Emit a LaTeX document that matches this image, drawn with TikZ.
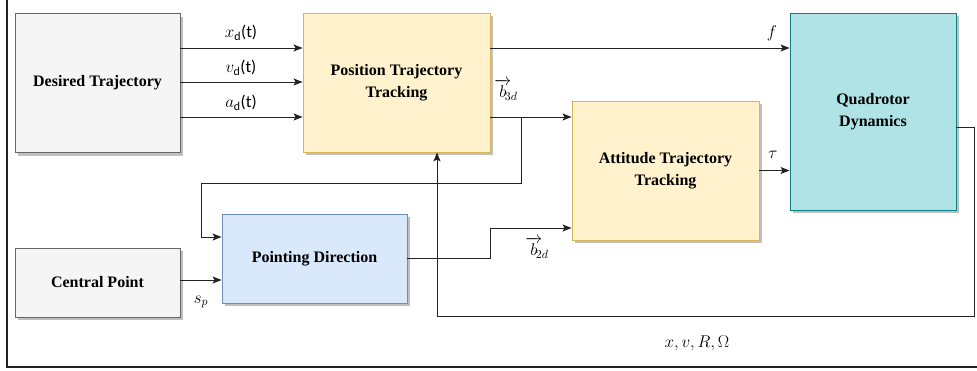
\RequirePackage{fix-cm}
\documentclass[tikz,border=0pt]{standalone}
\usepackage{amsmath}
\usepackage{fontspec}
\setmainfont{Liberation Serif}
\setsansfont{Carlito}
\usepackage{tikz}
\usetikzlibrary{arrows.meta,positioning,calc,shadows}
\definecolor{gf}{HTML}{F5F5F5}
\definecolor{gd}{HTML}{666666}
\definecolor{yf}{HTML}{FFF2CC}
\definecolor{yd}{HTML}{D6B656}
\definecolor{bf}{HTML}{DAE8FC}
\definecolor{bd}{HTML}{6C8EBF}
\definecolor{cf}{HTML}{B0E3E6}
\definecolor{cd}{HTML}{0E8088}
\definecolor{ln}{HTML}{222222}
\newcommand{\Sub}[1]{\ensuremath{_{\text{\sffamily #1}}}}
\newcommand{\Vb}[1]{\ensuremath{\overrightarrow{b}\mkern-7mu{}_{#1}}}
\tikzset{
  blk/.style={draw, line width=0.9pt, align=center, inner sep=0pt,
    font=\bfseries\fontsize{16}{22}\selectfont,
    drop shadow={shadow xshift=3pt, shadow yshift=-3pt, fill=black!25, opacity=1}},
  arr/.style={draw=ln, line width=1pt, -{Stealth[length=9pt,width=7pt,inset=2pt]}},
  lbl/.style={font=\fontsize{17}{20}\selectfont, inner sep=0pt},
}
\begin{document}
\begin{tikzpicture}[x=1pt,y=-1pt]
  \useasboundingbox (0,0) rectangle (977,370);
  % outer frame
  \draw[line width=1.3pt, ln] (7,0) -- (7,367) -- (977,367);

  % blocks
  \node[blk, fill=gf, draw=gd, minimum width=165, minimum height=139] (dtraj) at (97.5,83) {Desired Trajectory};
  \node[blk, fill=yf, draw=yd, minimum width=187, minimum height=139] (ptrack) at (396.5,82.5) {Position Trajectory\\Tracking};
  \node[blk, fill=cf, draw=cd, minimum width=166, minimum height=197] (quad) at (873,111.5) {Quadrotor\\Dynamics};
  \node[blk, fill=yf, draw=yd, minimum width=187, minimum height=139] (atrack) at (665.5,170.5) {Attitude Trajectory\\Tracking};
  \node[blk, fill=gf, draw=gd, minimum width=165, minimum height=69] (cpoint) at (97.5,282.5) {Central Point};
  \node[blk, fill=bf, draw=bd, minimum width=185, minimum height=89] (pdir) at (314.5,258.5) {Pointing Direction};

  % reference inputs
  \draw[arr] ([yshift=35]dtraj.east) -- ([yshift=35]dtraj.east -| ptrack.west);
  \draw[arr] ([yshift=1]dtraj.east) -- ([yshift=1]dtraj.east -| ptrack.west);
  \draw[arr] ([yshift=-34]dtraj.east) -- ([yshift=-34]dtraj.east -| ptrack.west);
  \node[lbl] (xd) at (241,33) {$x\Sub{d}$\sffamily(t)};
  \node[lbl] (vd) at (241,68) {$v\Sub{d}$\sffamily(t)};
  \node[lbl] (ad) at (241,103) {$a\Sub{d}$\sffamily(t)};

  % thrust
  \coordinate (fo) at ([yshift=34.5]ptrack.east);
  \draw[arr] (fo) -- (fo -| quad.west);
  \node[lbl] (fl) at (772,33) {$f$};

  % b3d and its branch
  \coordinate (b3) at ([yshift=-34.5]ptrack.east);
  \coordinate (sp) at (521,117);
  \coordinate (fk) at (201,183);
  \draw[arr] (b3) -- (b3 -| atrack.west);
  \draw[arr] (sp) |- (fk) |- ([yshift=21.5]pdir.west);
  \node[lbl] (b3l) at (506,90) {\Vb{3d}};

  % b2d
  \coordinate (b2) at ([yshift=-57.5]atrack.west);
  \coordinate (b2k) at (490,228);
  \draw[arr] (pdir.east) -| (b2k) -- (b2);
  \node[lbl] (b2l) at (537,248) {\Vb{2d}};

  % torque
  \draw[arr] (atrack.east) -- (atrack.east -| quad.west);
  \node[lbl] (tl) at (773,155) {$\tau$};

  % center point
  \draw[arr] ([yshift=2.5]cpoint.east) -- ([yshift=2.5]cpoint.east -| pdir.west);
  \node[lbl] (spl) at (201,302) {$s_p$};

  % state feedback
  \coordinate (fb1) at (974,316);
  \coordinate (fb2) at (437,316);
  \draw[arr] ([yshift=-15.5]quad.east) -| (fb1) -- (fb2) -- (fb2 |- ptrack.south);
  \node[lbl] (stl) at (697,343) {$x, v, R, \Omega$};
\end{tikzpicture}
\end{document}
